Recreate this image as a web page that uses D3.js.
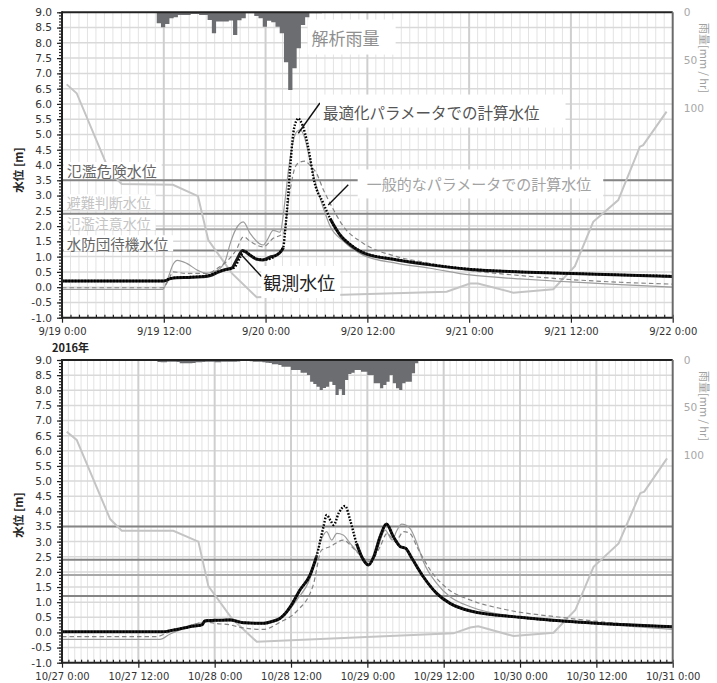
<!DOCTYPE html>
<html>
<head>
<meta charset="utf-8">
<script src="https://cdn.jsdelivr.net/npm/d3@7"></script>
<style>
  body { margin: 0; background: #fff; }
  svg { display: block; }
</style>
</head>
<body>
<svg id="chart" width="717" height="683"></svg>
<script>
// ---- Periods ---------------------------------------------------------------
const septStart = new Date(2016, 8, 19, 0, 0);
const septEnd   = new Date(2016, 8, 22, 0, 0);
const octStart  = new Date(2016, 9, 27, 0, 0);
const octEnd    = new Date(2016, 9, 31, 0, 0);

// ---- Warning levels [m] ----------------------------------------------------
const thresholdLevels = [3.5, 2.4, 1.9, 1.2];
const thresholdNames  = ["氾濫危険水位", "避難判断水位", "氾濫注意水位", "水防団待機水位"];

// ---- Axis ticks ------------------------------------------------------------
const levelTicks = d3.range(-1, 9.01, 0.5);
const rainTicks  = [0, 50, 100];

// ---- Analysed rainfall [mm/hr], 30-minute steps ------------------------------
const septRainStartHour = 11 + 10 / 60;
const septRain = [11.5, 15.7, 12.3, 6.3, 5.2, 2.8, 2.8, 2.8, 1.8, 1.8, 2.8, 2.8, 8.1, 22.0, 9.7, 9.7,
  9.7, 8.7, 23.8, 8.4, 6.3, 1.0, 1.0, 3.9, 6.3, 15.1, 8.8, 10.5, 15.1, 22.0, 52.4, 81.4, 58.7, 37.7,
  13.3, 5.2, 1.0, 1.0, 1.0];
const octRainStartHour = 13;
const octRain = [0.8, 1.1, 1.1, 1.1, 2.1, 2.4, 2.4, 1.8, 1.8, 1.8, 2.1, 3.5, 3.5, 3.5, 3.5, 3.2, 2.4,
  2.4, 2.1, 1.8, 1.8, 1.8, 2.4, 2.4, 1.8, 1.8, 1.8, 1.8, 1.8, 1.6, 1.1, 1.1, 1.1, 1.3, 1.8, 1.8, 1.8,
  2.3, 2.9, 3.2, 4.5, 4.5, 5.3, 7.1, 7.1, 7.1, 10.6, 10.6, 10.6, 13.4, 13.4, 15.9, 22.9, 25.4, 28.2,
  31.7, 29.6, 28.2, 22.9, 26.4, 37.0, 31.0, 37.0, 21.1, 14.8, 13.4, 10.6, 10.6, 12.4, 12.4, 15.9, 15.9,
  24.6, 24.6, 29.9, 26.4, 22.9, 15.9, 24.6, 29.9, 31.7, 24.6, 22.9, 22.9, 14.1, 3.5];

// ---- Water levels [hour from period start, level m] --------------------------
const septObserved = [[0,0.2],[12,0.2],[12.8,0.28],[13.5,0.31],[15,0.32],[16.5,0.34],[17.5,0.38],
  [18.5,0.5],[19.3,0.58],[20,0.62],[20.6,0.9],[21.3,1.2],[22,1.08],[22.9,0.92],[23.7,0.89],[24.5,0.98],
  [25.3,1.05],[25.9,1.2],[26.1,1.3],[26.3,null],[31.5,null],[31.6,2.25],[32.8,1.7],[34,1.38],[35.5,1.12],
  [39.5,0.89],[43.4,0.73],[48.1,0.58],[54,0.5],[60,0.45],[66,0.4],[72,0.35]];
const septOptimized = [[0,0.2],[12,0.2],[12.8,0.29],[14,0.32],[16,0.34],[17.5,0.4],[18.5,0.52],
  [19.5,0.58],[20.3,0.64],[21,0.98],[21.5,1.18],[22.2,1.05],[23,0.92],[24,0.9],[25,1.0],[26.09,1.31],
  [26.29,1.8],[26.68,3.07],[26.88,3.84],[27.27,5.04],[27.67,5.47],[27.86,5.53],[28.06,5.47],[28.65,5.04],
  [29.23,4.27],[29.62,3.62],[30.8,2.75],[31.6,2.25],[32.8,1.71],[34,1.4],[35.5,1.14],[39.5,0.9],
  [43.4,0.74],[48.1,0.59],[54,0.5],[60,0.45],[66,0.4],[72,0.36]];
const septGeneral = [[0,-0.02],[11.9,-0.02],[12.5,0.2],[13.1,0.5],[14.7,0.45],[17,0.45],[18.6,0.67],
  [19.8,0.95],[20.5,1.2],[21.4,1.65],[22.2,1.5],[23.7,1.32],[24.9,1.6],[26.1,1.76],[26.9,3.18],
  [27.5,3.94],[28.1,4.1],[28.65,4.13],[29.2,4.0],[30,3.73],[30.8,3.2],[31.6,2.75],[33.2,1.98],
  [35.5,1.44],[39.5,1.0],[43.4,0.78],[48.1,0.55],[54,0.38],[59.9,0.25],[65.8,0.16],[72,0.1]];
const septReference = [[0,-0.07],[11.9,-0.07],[12.5,0.3],[13.1,0.75],[13.6,0.88],[14.7,0.78],[16,0.55],
  [17,0.45],[18.3,0.55],[19.3,0.9],[19.8,1.4],[20.5,1.9],[21.37,2.14],[22.2,1.75],[23.73,1.38],
  [24.2,1.55],[24.9,1.86],[25.7,1.8],[26.3,2.85],[26.7,3.84],[27.2,4.7],[27.7,5.1],[28.1,5.15],
  [28.6,4.9],[29.2,4.2],[29.8,3.5],[30.8,2.6],[31.6,2.0],[33.2,1.5],[35.5,1.05],[39.5,0.78],
  [43.4,0.62],[48.1,0.4],[54,0.27],[59.9,0.17],[65.8,0.08],[72,0.0]];
const septTrace = [[0.55,6.64],[1.73,6.35],[5.66,3.75],[7.04,3.38],[13.08,3.35],[16.03,2.98],
  [17.25,1.54],[20.04,0.45],[22.95,-0.33],[45.35,-0.15],[48.1,0.12],[49.04,0.12],[53.2,-0.18],
  [57.92,-0.07],[60.47,0.69],[62.63,2.14],[65.58,2.85],[68.13,4.6],[68.52,4.65],[71.28,5.75]];

const octObserved = [[0,0.02],[16,0.02],[17,0.06],[18.8,0.13],[20.7,0.21],[22,0.25],[22.5,0.39],
  [24,0.4],[26.4,0.41],[28.5,0.32],[31.7,0.3],[33,0.36],[34.3,0.47],[35.2,0.65],[35.9,0.85],[37.4,1.4],
  [39,1.9],[40,2.5],[40.4,null],[45.8,null],[46.3,2.94],[47.4,2.39],[48.2,2.23],[49,2.5],[50,3.16],
  [51,3.58],[52.1,3.16],[53.2,2.83],[54,2.78],[55,2.45],[56.8,1.84],[58.9,1.29],[61,0.96],[64.2,0.71],
  [72,0.5],[84.1,0.3],[96,0.19]];
const octOptimized = [[0,0.02],[16,0.02],[17,0.06],[18.8,0.13],[20.7,0.21],[22,0.25],[22.5,0.39],
  [24,0.4],[26.4,0.41],[28.5,0.32],[31.7,0.3],[33,0.36],[34.3,0.47],[35.2,0.65],[35.9,0.85],[37.4,1.4],
  [39,1.9],[40,2.5],[41.1,3.49],[41.6,3.88],[42.2,3.7],[42.7,3.55],[43.5,3.94],[44.5,4.18],[45.3,3.71],
  [46.3,2.94],[47.4,2.39],[48.2,2.23],[49,2.5],[50,3.16],[51,3.58],[52.1,3.16],[53.2,2.83],[54,2.78],
  [55,2.45],[56.8,1.84],[58.9,1.29],[61,0.96],[64.2,0.71],[72,0.5],[84.1,0.3],[96,0.19]];
const octGeneral = [[0,-0.14],[14.8,-0.14],[16.5,-0.02],[19,0.15],[21,0.28],[22.5,0.35],[24,0.3],
  [26.4,0.25],[28.5,0.15],[31.7,0.1],[34.3,0.34],[36.9,0.7],[39.5,1.57],[40.8,2.72],[42.1,2.83],
  [44.2,3.05],[45.8,2.78],[47.4,2.45],[48.4,2.34],[50,2.83],[51.1,3.27],[52.4,3.0],[53.7,3.33],
  [54.7,3.27],[55.8,2.83],[57.9,2.06],[60.5,1.46],[64.2,1.07],[69.4,0.77],[78.8,0.49],[96,0.15]];
const octReference = [[0,-0.23],[15.4,-0.23],[17,-0.05],[19,0.12],[21,0.28],[22.5,0.33],[24,0.38],
  [26.4,0.45],[28.5,0.35],[31.7,0.3],[34.3,0.45],[36.9,1.07],[39,1.79],[40.6,3.0],[41.6,3.33],
  [42.4,3.05],[43.2,3.27],[44.2,3.22],[45.3,2.94],[46.9,2.56],[48.2,2.34],[49.5,2.72],[50.8,3.38],
  [51.9,3.05],[52.6,3.35],[53.4,3.58],[54.7,3.44],[55.8,2.94],[56.8,2.34],[58.9,1.62],[61,1.18],
  [64.2,0.85],[72,0.5],[84.1,0.28],[96,0.1]];
const octTrace = [[0.74,6.63],[2.31,6.36],[7.55,3.75],[9.39,3.36],[17.5,3.36],[21.44,3.0],[23.01,1.53],
  [26.74,0.45],[30.62,-0.31],[61.54,-0.03],[64.17,0.16],[65.43,0.2],[70.98,-0.12],[77.27,-0.01],
  [80.69,0.74],[83.56,2.17],[87.5,2.94],[90.9,4.6],[91.53,4.65],[95.11,5.75]];

// ---- Annotations (anchor hour, level) ----------------------------------------
const septNotes = [
  { text: "解析雨量", at: [29.43, 8.19] },
  { text: "最適化パラメータでの計算水位", at: [30.77, 5.75], from: [30.41, 6.03], to: [27.86, 5.04] },
  { text: "一般的なパラメータでの計算水位", at: [35.92, 3.38], from: [33.75, 3.35], to: [31.39, 2.69] },
  { text: "観測水位", at: [23.73, 0.17], from: [23.54, 0.34], to: [20.98, 1.11] }
];
const thresholdLabelLevels = [3.82, 2.78, 2.1, 1.42];

// ---- Drawing -----------------------------------------------------------------
const svg = d3.select("#chart");
const X0 = 62, X1 = 672.7;
const HOUR = 3600e3;
const fmtTick = d3.timeFormat("%-m/%-d %-H:%M");
const NUM_FONT = "'DejaVu Sans', Verdana, sans-serif";
const JP_FONT = "'Noto Sans CJK JP', 'Noto Sans', sans-serif";

const noteStyles = {
  "解析雨量": { size: 17, color: "#8f8f8f", pad: [4, 5, 16, 5] },
  "最適化パラメータでの計算水位": { size: 15.5, color: "#555555", pad: [3, 6, 26, 5] },
  "一般的なパラメータでの計算水位": { size: 15, color: "#a3a3a3", pad: [9, 4, 12, 4] },
  "観測水位": { size: 18, color: "#222222", pad: [2, 3, 5, 3] }
};
const thresholdLabelColors = ["#666666", "#c4c4c4", "#c4c4c4", "#666666"];
const thresholdLabelSizes = [15, 14, 14, 14.5];

function drawPanel(p) {
  const g = svg.append("g");
  const x = d3.scaleTime().domain([p.start, p.end]).range([X0, X1]);
  const y = d3.scaleLinear().domain([-1, 9]).range([p.bottom, p.top]);
  const yr = d3.scaleLinear().domain([0, 320]).range([p.top, p.bottom]);
  const at = h => new Date(p.start.getTime() + h * HOUR);

  // grid
  const hours = d3.timeHour.every(1).range(p.start, p.end);
  g.append("g").selectAll("line").data(hours.filter(d => d.getHours() % 12 !== 0)).join("line")
    .attr("x1", d => x(d)).attr("x2", d => x(d)).attr("y1", p.top).attr("y2", p.bottom)
    .attr("stroke", "#e3e3e3").attr("stroke-width", 1);
  g.append("g").selectAll("line").data(levelTicks.slice(1, -1)).join("line")
    .attr("x1", X0).attr("x2", X1).attr("y1", d => y(d)).attr("y2", d => y(d))
    .attr("stroke", "#d9d9d9").attr("stroke-width", 1.5);
  g.append("g").selectAll("line").data(d3.timeHour.every(12).range(p.start, p.end).slice(1)).join("line")
    .attr("x1", d => x(d)).attr("x2", d => x(d)).attr("y1", p.top).attr("y2", p.bottom)
    .attr("stroke", "#cfcfcf").attr("stroke-width", 2);

  // rainfall hanging from the top
  const rainPts = p.rain.map((v, i) => [at(p.rainStart + i * 0.5), v]);
  rainPts.push([at(p.rainStart + p.rain.length * 0.5), 0]);
  g.append("path").datum(rainPts)
    .attr("d", d3.area().curve(d3.curveStepAfter).x(d => x(d[0])).y0(p.top).y1(d => yr(d[1])))
    .attr("fill", "#6c6d70");

  // warning levels
  g.append("g").selectAll("line").data(thresholdLevels).join("line")
    .attr("x1", X0).attr("x2", X1).attr("y1", d => y(d)).attr("y2", d => y(d))
    .attr("stroke", (d, i) => i === 2 ? "#a8a8a8" : "#858585").attr("stroke-width", 2);

  const line = d3.line().defined(d => d[1] != null)
    .x(d => x(at(d[0]))).y(d => y(d[1])).curve(d3.curveMonotoneX);
  const straight = d3.line().x(d => x(at(d[0]))).y(d => y(d[1]));

  g.append("path").datum(p.trace).attr("d", straight)
    .attr("fill", "none").attr("stroke", "#c4c4c4").attr("stroke-width", 2);
  g.append("path").datum(p.reference).attr("d", line)
    .attr("fill", "none").attr("stroke", "#9c9c9c").attr("stroke-width", 1.2);
  g.append("path").datum(p.general).attr("d", line)
    .attr("fill", "none").attr("stroke", "#858585").attr("stroke-width", 1.2)
    .attr("stroke-dasharray", "4.5,3");
  g.append("path").datum(p.observed).attr("d", line)
    .attr("fill", "none").attr("stroke", "#1c1c1c").attr("stroke-width", 3)
    .attr("stroke-linejoin", "round");
  g.append("path").datum(p.optimized).attr("d", line)
    .attr("fill", "none").attr("stroke", "#000").attr("stroke-width", 2.4)
    .attr("stroke-dasharray", "1.6,1.6");

  // labels with white boxes
  function boxedText(txt, px, py, size, color, pad) {
    const grp = g.append("g");
    const rect = grp.append("rect").attr("fill", "#fff");
    const t = grp.append("text").attr("x", px).attr("y", py)
      .attr("dominant-baseline", "central")
      .attr("font-family", JP_FONT).attr("font-size", size).attr("fill", color).text(txt);
    const b = t.node().getBBox();
    rect.attr("x", b.x - pad[0]).attr("y", b.y - pad[1])
      .attr("width", b.width + pad[0] + pad[2]).attr("height", b.height + pad[1] + pad[3]);
  }

  if (p.labels) {
    thresholdNames.forEach((name, i) => {
      boxedText(name, x(at(0.55)), y(thresholdLabelLevels[i]), thresholdLabelSizes[i],
        thresholdLabelColors[i], [3, -2, 5, -3]);
    });
    p.notes.forEach(n => {
      const s = noteStyles[n.text];
      if (n.from) {
        g.append("line")
          .attr("x1", x(at(n.from[0]))).attr("y1", y(n.from[1]))
          .attr("x2", x(at(n.to[0]))).attr("y2", y(n.to[1]))
          .attr("stroke", "#111").attr("stroke-width", 1.4);
      }
      boxedText(n.text, x(at(n.at[0])), y(n.at[1]), s.size, s.color, s.pad);
    });
  }

  // axes
  const left = g.append("g").attr("transform", `translate(${X0},0)`);
  left.call(d3.axisLeft(y).tickValues(d3.range(-1, 9.001, 0.1)).tickSize(3).tickFormat(""));
  left.call(g2 => g2.select(".domain").remove());
  const leftMajor = g.append("g").attr("transform", `translate(${X0},0)`)
    .call(d3.axisLeft(y).tickValues(levelTicks).tickSize(5).tickPadding(5).tickFormat(d => d.toFixed(1)));
  leftMajor.select(".domain").remove();
  leftMajor.selectAll("text").attr("font-family", NUM_FONT).attr("font-size", 10.6).attr("fill", "#333");

  const bottomMinor = g.append("g").attr("transform", `translate(0,${p.bottom})`)
    .call(d3.axisBottom(x).ticks(d3.timeHour.every(1)).tickSize(-3).tickFormat(""));
  bottomMinor.select(".domain").remove();
  const bottomMajor = g.append("g").attr("transform", `translate(0,${p.bottom})`)
    .call(d3.axisBottom(x).ticks(d3.timeHour.every(12)).tickSize(5).tickPadding(5).tickFormat(fmtTick));
  bottomMajor.select(".domain").remove();
  bottomMajor.selectAll("text").attr("font-family", NUM_FONT).attr("font-size", 10).attr("fill", "#333");
  g.selectAll(".tick line").attr("stroke", "#222").attr("stroke-width", 1.2);

  const right = g.append("g").attr("transform", `translate(${X1},0)`)
    .call(d3.axisRight(yr).tickValues(rainTicks).tickSize(0).tickPadding(11));
  right.select(".domain").remove();
  right.selectAll("text").attr("font-family", NUM_FONT).attr("font-size", 10.6).attr("fill", "#a8a8a8");

  // frame
  g.append("line").attr("x1", X0).attr("x2", X1).attr("y1", p.top).attr("y2", p.top)
    .attr("stroke", "#222").attr("stroke-width", 2);
  g.append("line").attr("x1", X1).attr("x2", X1).attr("y1", p.top).attr("y2", p.bottom)
    .attr("stroke", "#6a6a6a").attr("stroke-width", 2);
  g.append("line").attr("x1", X0).attr("x2", X1).attr("y1", p.bottom).attr("y2", p.bottom)
    .attr("stroke", "#222").attr("stroke-width", 2);
  g.append("line").attr("x1", X0).attr("x2", X0).attr("y1", p.top - 1).attr("y2", p.bottom + 1)
    .attr("stroke", "#222").attr("stroke-width", 2);

  // axis titles
  g.append("text").attr("transform", `translate(18,${p.titleY}) rotate(-90)`)
    .attr("text-anchor", "middle").attr("dominant-baseline", "central")
    .attr("font-family", JP_FONT).attr("font-weight", 700).attr("font-size", 11.5).attr("fill", "#222")
    .text("水位 [m]");
  g.append("text").attr("transform", `translate(705,${p.rainTitleY}) rotate(90)`)
    .attr("text-anchor", "middle").attr("dominant-baseline", "central")
    .attr("font-family", JP_FONT).attr("font-size", 11).attr("fill", "#a0a0a0")
    .text("雨量[mm / hr]");

  if (p.year) {
    g.append("text").attr("x", X0 - 10).attr("y", p.bottom + 29.5)
      .attr("dominant-baseline", "central")
      .attr("font-family", JP_FONT).attr("font-weight", 700).attr("font-size", 11).attr("fill", "#222")
      .text("2016年");
  }
}

drawPanel({
  start: septStart, end: septEnd, top: 12.3, bottom: 317.7,
  rain: septRain, rainStart: septRainStartHour,
  observed: septObserved, optimized: septOptimized, general: septGeneral,
  reference: septReference, trace: septTrace,
  labels: true, notes: septNotes, year: true, titleY: 170, rainTitleY: 58
});
drawPanel({
  start: octStart, end: octEnd, top: 360, bottom: 662.7,
  rain: octRain, rainStart: octRainStartHour,
  observed: octObserved, optimized: octOptimized, general: octGeneral,
  reference: octReference, trace: octTrace,
  labels: false, notes: [], year: false, titleY: 515, rainTitleY: 406
});
</script>
</body>
</html>
